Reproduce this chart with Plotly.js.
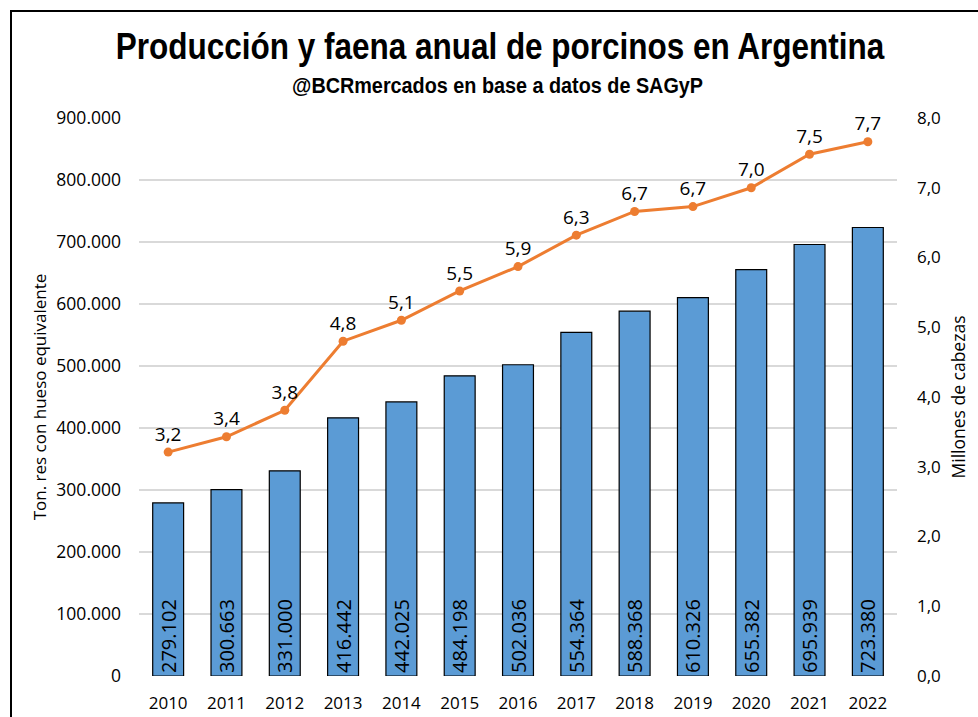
<!DOCTYPE html>
<html>
<head>
<meta charset="utf-8">
<script src="https://cdn.plot.ly/plotly-3.0.1.min.js"></script>
<style>
  html, body { margin: 0; padding: 0; background: #fff; }
  #wrap { position: relative; width: 978px; height: 717px; overflow: hidden; }
  #chart { width: 978px; height: 717px; }
  #frame { position: absolute; left: 10px; top: 10px; right: -5px; bottom: -5px;
           border-left: 2px solid #000; border-top: 2px solid #000; pointer-events: none; }
</style>
</head>
<body>
<div id="wrap">
  <div id="chart"></div>
  <div id="frame"></div>
</div>
<script>
const years = ['2010','2011','2012','2013','2014','2015','2016','2017','2018','2019','2020','2021','2022'];
const produccion = [279102, 300663, 331000, 416442, 442025, 484198, 502036, 554364, 588368, 610326, 655382, 695939, 723380];
const faena = [3.21, 3.43, 3.81, 4.80, 5.10, 5.52, 5.87, 6.32, 6.66, 6.73, 7.00, 7.48, 7.66];
const leftTicks = [0, 100000, 200000, 300000, 400000, 500000, 600000, 700000, 800000, 900000];
const rightTicks = [0, 1, 2, 3, 4, 5, 6, 7, 8];
const titleText = 'Producción y faena anual de porcinos en Argentina';
const subtitleText = '@BCRmercados en base a datos de SAGyP';

const font = 'Open Sans, Noto Sans, sans-serif';
const heavy = 'Liberation Sans, Arial, sans-serif';

const bars = {
  type: 'bar',
  x: years,
  y: produccion,
  yaxis: 'y',
  marker: { color: '#5B9BD5', line: { color: '#000', width: 1.2 } },
  texttemplate: '%{y:,.0f}',
  textposition: 'inside',
  insidetextanchor: 'start',
  textangle: -90,
  constraintext: 'none',
  textfont: { family: font, size: 20, color: '#000' },
  hoverinfo: 'skip',
  showlegend: false
};

const line = {
  type: 'scatter',
  mode: 'lines+markers+text',
  x: years,
  y: faena,
  yaxis: 'y2',
  line: { color: '#ED7D31', width: 3 },
  marker: { color: '#ED7D31', size: 9 },
  texttemplate: '%{y:.1f}',
  textposition: 'top center',
  textfont: { family: font, size: 19, color: '#000' },
  cliponaxis: false,
  hoverinfo: 'skip',
  showlegend: false
};

const layout = {
  width: 978,
  height: 717,
  separators: ',.',
  paper_bgcolor: '#fff',
  plot_bgcolor: '#fff',
  margin: { l: 139, r: 81, t: 118, b: 41, autoexpand: false },
  bargap: 0.47,
  font: { family: font, color: '#000' },
  title: {
    text: '<b>' + titleText + '</b>',
    font: { family: heavy, size: 37, color: '#000' },
    x: 500 / 978, xanchor: 'center', xref: 'container',
    y: 1 - 46 / 717, yanchor: 'middle', yref: 'container'
  },
  annotations: [{
    text: '<b>' + subtitleText + '</b>',
    font: { family: heavy, size: 22.5, color: '#000' },
    xref: 'paper', yref: 'paper',
    x: (497.5 - 139) / 758, y: 1 + (118 - 86) / 558,
    xanchor: 'center', yanchor: 'middle',
    showarrow: false
  }],
  xaxis: {
    type: 'category',
    range: [-0.5, 12.5],
    tickfont: { family: font, size: 17, color: '#000' },
    ticklabelstandoff: 15,
    showgrid: false,
    showline: false,
    zeroline: false,
    ticks: ''
  },
  yaxis: {
    range: [0, 900000],
    tickvals: leftTicks,
    tickformat: ',.0f',
    tickfont: { family: font, size: 17.5, color: '#000' },
    ticklabelstandoff: 17,
    gridcolor: '#D9D9D9',
    gridwidth: 1.3,
    zeroline: false,
    showline: false,
    title: { text: 'Ton. res con hueso equivalente', font: { family: font, size: 17, color: '#000' }, standoff: 5 }
  },
  yaxis2: {
    overlaying: 'y',
    side: 'right',
    range: [0, 8],
    tickvals: rightTicks,
    tickformat: '.1f',
    tickfont: { family: font, size: 17, color: '#000' },
    ticklabelstandoff: 19,
    showgrid: false,
    zeroline: false,
    showline: false,
    title: { text: 'Millones de cabezas', font: { family: font, size: 17.5, color: '#000' }, standoff: 12 }
  }
};

// Narrow a drawn text horizontally (about its own centre) to a target width,
// to imitate the condensed heading typeface of the original.
function condense(el, targetWidth) {
  if (!el) return;
  const bb = el.getBBox();
  if (!bb.width) return;
  const s = targetWidth / bb.width;
  const cx = bb.x + bb.width / 2;
  const prev = el.getAttribute('transform') || '';
  el.setAttribute('transform', (prev + ' translate(' + cx + ',0) scale(' + s + ',1) translate(' + (-cx) + ',0)').trim());
}

Plotly.newPlot('chart', [bars, line], layout, { displayModeBar: false, staticPlot: true }).then(function (gd) {
  condense(gd.querySelector('.gtitle'), 769);
  condense(gd.querySelector('.annotation-text'), 411);
});
</script>
</body>
</html>
